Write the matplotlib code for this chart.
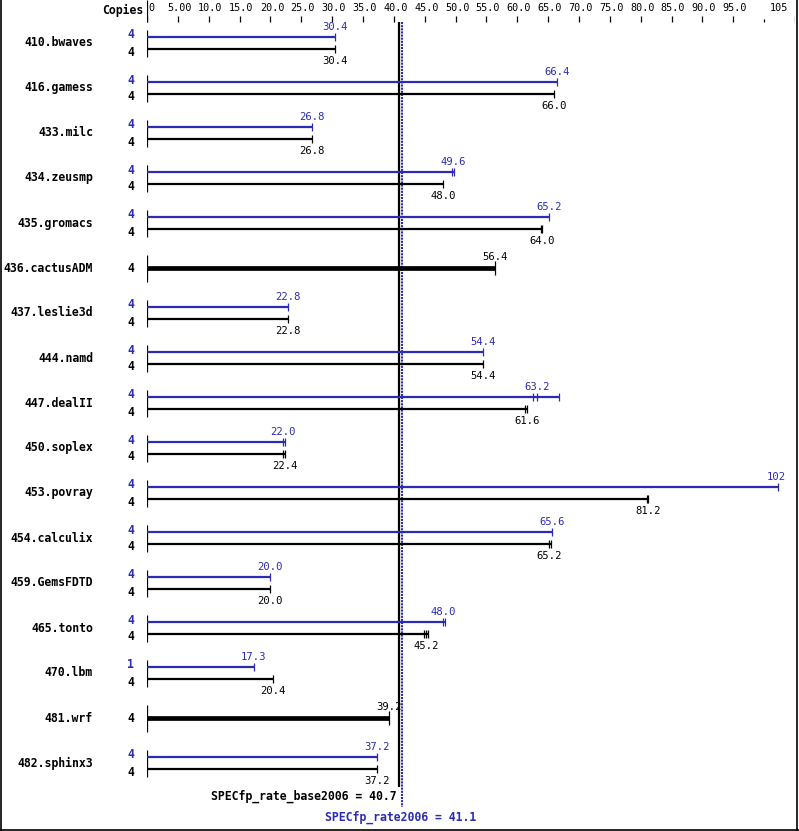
import matplotlib.pyplot as plt
from matplotlib.lines import Line2D

# benchmark names, top to bottom
benchmarks = ['410.bwaves', '416.gamess', '433.milc', '434.zeusmp', '435.gromacs',
              '436.cactusADM', '437.leslie3d', '444.namd', '447.dealII', '450.soplex',
              '453.povray', '454.calculix', '459.GemsFDTD', '465.tonto', '470.lbm',
              '481.wrf', '482.sphinx3']

# peak (blue) median ratios, None = no separate peak result
peak = [30.4, 66.4, 26.8, 49.6, 65.2, None, 22.8, 54.4, 63.2, 22.0,
        102, 65.6, 20.0, 48.0, 17.3, None, 37.2]
peak_runs = [[30.4], [66.4], [26.8], [49.4, 49.7], [65.2], None, [22.8], [54.4],
             [62.5, 63.2, 66.8], [22.0, 22.3], [102.2], [65.7], [20.0], [48.0, 48.3],
             [17.3], None, [37.2]]
peak_copies = [4, 4, 4, 4, 4, None, 4, 4, 4, 4, 4, 4, 4, 4, 1, None, 4]

# base (black) median ratios
base = [30.4, 66.0, 26.8, 48.0, 64.0, 56.4, 22.8, 54.4, 61.6, 22.4,
        81.2, 65.2, 20.0, 45.2, 20.4, 39.2, 37.2]
base_runs = [[30.4], [66.0], [26.8], [48.0], [63.8, 64.0], [56.4], [22.8], [54.4],
             [61.3, 61.6], [22.1, 22.4], [81.0, 81.2], [65.2, 65.5], [20.0],
             [44.9, 45.2, 45.5], [20.4], [39.2], [37.2]]
base_copies = [4] * 17

ticks = [0, 5, 10, 15, 20, 25, 30, 35, 40, 45, 50, 55, 60, 65, 70, 75, 80, 85, 90, 95, 100, 105]
tick_labels = ['0', '5.00', '10.0', '15.0', '20.0', '25.0', '30.0', '35.0', '40.0', '45.0',
               '50.0', '55.0', '60.0', '65.0', '70.0', '75.0', '80.0', '85.0', '90.0',
               '95.0', '', '105']

base_score = 40.7
peak_score = 41.1

W, H = 799, 831
BLUE = '#2b2bb4'
MONO = 'DejaVu Sans Mono'


def main():
    fig = plt.figure(figsize=(W / 100, H / 100), dpi=100)
    x0, x1 = 147, 795
    ax = fig.add_axes([x0 / W, 0, (x1 - x0) / W, 1])
    ax.set_xlim(0, 105)
    ax.set_ylim(H, 0)
    ax.axis('off')

    def fx(px):
        return px / W

    def fy(py):
        return 1 - py / H

    # top scale
    major = [t for t in ticks if t != 100]
    ax.vlines(major, 16, 22, color='black', lw=0.9)
    ax.vlines([100], 19, 22, color='black', lw=0.9)
    ax.vlines([0], 0, 22, color='black', lw=0.9)
    for t, lab in zip(ticks, tick_labels):
        if not lab:
            continue
        ha = 'center'
        dx = 0.25
        if t == 0:
            ha, dx = 'left', 0.3
        elif t == 105:
            ha, dx = 'right', -1.1
        ax.text(t + dx, 8, lab, ha=ha, va='center', fontsize=7.3, family=MONO)
    fig.text(fx(143), fy(10), 'Copies', ha='right', va='center', fontsize=8.3,
             family=MONO, weight='bold')

    # score lines
    ax.vlines([base_score + 0.15], 22, 787, color='black', lw=1.6)
    ax.vlines([peak_score + 0.2], 22, 807, color=BLUE, lw=1.5,
              linestyles=(0, (1.0, 0.5)))
    ax.text(base_score - 0.2, 796, 'SPECfp_rate_base2006 = %.1f' % base_score,
            ha='right', va='center', fontsize=8.3, family=MONO, weight='bold')
    ax.text(peak_score, 817, 'SPECfp_rate2006 = %.1f' % peak_score,
            ha='center', va='center', fontsize=8.3, family=MONO, weight='bold', color=BLUE)

    for i, name in enumerate(benchmarks):
        c = 43 + 45 * i
        fig.text(fx(93), fy(c), name, ha='right', va='center', fontsize=8.3,
                 family=MONO, weight='bold')
        ax.vlines([0], c - 13, c + 14, color='black', lw=0.9)
        if peak[i] is None:
            runs = base_runs[i]
            ax.hlines(c, 0, max(runs), color='black', lw=3.4)
            ax.vlines(runs, c - 7, c + 7, color='black', lw=0.9)
            ax.text(base[i], c - 11, '%.1f' % base[i], ha='center', va='center',
                    fontsize=7.6, family=MONO)
            fig.text(fx(134), fy(c), str(base_copies[i]), ha='right', va='center',
                     fontsize=8.3, family=MONO, weight='bold')
            continue
        yb, yk = c - 6, c + 6
        runs = peak_runs[i]
        ax.hlines(yb, 0, max(runs), color=BLUE, lw=1.6)
        ax.vlines(runs, yb - 4, yb + 4, color=BLUE, lw=0.9)
        ax.text(peak[i], c - 16, '%.1f' % peak[i] if peak[i] < 100 else '%d' % peak[i],
                ha='center', va='center', fontsize=7.6, family=MONO, color=BLUE)
        runs = base_runs[i]
        ax.hlines(yk, 0, max(runs), color='black', lw=1.6)
        ax.vlines(runs, yk - 4, yk + 4, color='black', lw=0.9)
        ax.text(base[i], c + 18, '%.1f' % base[i], ha='center', va='center',
                fontsize=7.6, family=MONO)
        fig.text(fx(134), fy(c - 8), str(peak_copies[i]), ha='right', va='center',
                 fontsize=8.3, family=MONO, weight='bold', color=BLUE)
        fig.text(fx(134), fy(c + 9), str(base_copies[i]), ha='right', va='center',
                 fontsize=8.3, family=MONO, weight='bold')

    # frame on left, right and bottom
    for xs, ys in [([0.5, 0.5], [0, H]), ([797, 797], [0, H]), ([0, W], [829.5, 829.5])]:
        fig.add_artist(Line2D([fx(v) for v in xs], [fy(v) for v in ys],
                              color='black', lw=1.2))

    plt.savefig('out.png', dpi=100)


if __name__ == "__main__":
    main()
